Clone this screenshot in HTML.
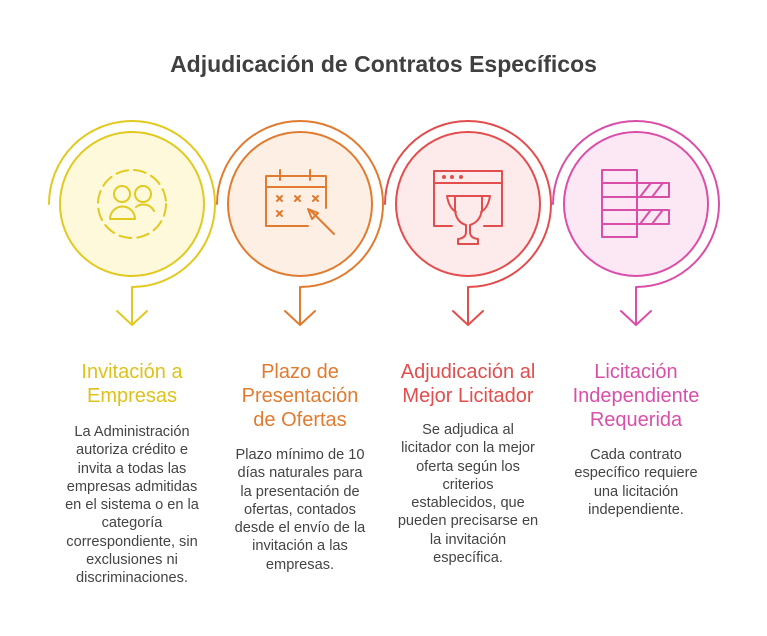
<!DOCTYPE html>
<html><head><meta charset="utf-8"><style>
body{margin:0;width:767px;height:636px;background:#fff;font-family:"Liberation Sans",sans-serif;position:relative;overflow:hidden}
.h{position:absolute;top:51px;left:0;width:767px;text-align:center;font-size:23px;font-weight:bold;color:#404040}
.c{position:absolute;width:170px;text-align:center}
.t{font-size:20px;line-height:24px;margin-top:0}
.d{font-size:14.6px;line-height:18.3px;color:#444;position:absolute;left:-10px;width:190px}
</style></head><body>
<div class="h">Adjudicación de Contratos Específicos</div>
<svg width="767" height="636" style="position:absolute;left:0;top:0" fill="none" stroke-width="2" stroke-linecap="round" stroke-linejoin="round">
<g stroke="#e2c91f"><circle cx="132" cy="204" r="72" fill="#fef9db"/><path d="M49 204 A83 83 0 1 1 132 287 L132 325 M117 311 L132 325 L147 311"/>
<circle cx="132" cy="204" r="34" stroke-dasharray="12 6"/><circle cx="122" cy="194" r="8"/><circle cx="143" cy="194" r="8"/><path d="M110 219 a12 12 0 0 1 25 0 Z M136 207 a12 12 0 0 1 18 4"/></g>
<g stroke="#e07b30"><circle cx="300" cy="204" r="72" fill="#fdefe3"/><path d="M217 204 A83 83 0 1 1 300 287 L300 325 M285 311 L300 325 L315 311"/>
<path d="M326 208 V176 H266 V226 H308 M266 187 H326 M280 170 V180 M310 170 V180 M277 196 l5 5 m0 -5 l-5 5 M295 196 l5 5 m0 -5 l-5 5 M313 196 l5 5 m0 -5 l-5 5 M277 211 l5 5 m0 -5 l-5 5 M310 210 l24 24 M308 209 l10 4 l-6 6 Z"/></g>
<g stroke="#e24d4d"><circle cx="468" cy="204" r="72" fill="#fdeaea"/><path d="M385 204 A83 83 0 1 1 468 287 L468 325 M453 311 L468 325 L483 311"/>
<path d="M452 226 H434 V171 H502 V226 H484 M434 183 H502 M455 196 H482 V210 Q480 222 470 225 V232 Q470 238 478 239 V244 H458 V239 Q466 238 466 232 V225 Q456 222 455 210 Z M455 196 H447 Q449 208 456 212 M482 196 H490 Q488 208 481 212"/><circle cx="444" cy="177" r="1" fill="#e24d4d"/><circle cx="452" cy="177" r="1" fill="#e24d4d"/><circle cx="461" cy="177" r="1" fill="#e24d4d"/></g>
<g stroke="#d94fa8"><circle cx="636" cy="204" r="72" fill="#fce8f5"/><path d="M553 204 A83 83 0 1 1 636 287 L636 325 M621 311 L636 325 L651 311"/>
<path d="M602 170 H637 V237 H602 Z M602 183 H637 M602 197 H637 M602 210 H637 M602 224 H637 M637 183 H669 V197 H637 M637 210 H669 V224 H637 M640 197 l10 -13 M652 197 l10 -13 M640 224 l10 -13 M652 224 l10 -13"/></g>
</svg>
<div class="c" style="left:47px;top:360px"><div class="t" style="color:#dcc21a">Invitación a<br>Empresas</div>
<div class="d" style="top:63px">La Administración<br>autoriza crédito e<br>invita a todas las<br>empresas admitidas<br>en el sistema o en la<br>categoría<br>correspondiente, sin<br>exclusiones ni<br>discriminaciones.</div></div>
<div class="c" style="left:215px;top:360px"><div class="t" style="color:#e07b30">Plazo de<br>Presentación<br>de Ofertas</div>
<div class="d" style="top:86px">Plazo mínimo de 10<br>días naturales para<br>la presentación de<br>ofertas, contados<br>desde el envío de la<br>invitación a las<br>empresas.</div></div>
<div class="c" style="left:383px;top:360px"><div class="t" style="color:#e24d4d">Adjudicación al<br>Mejor Licitador</div>
<div class="d" style="top:61px">Se adjudica al<br>licitador con la mejor<br>oferta según los<br>criterios<br>establecidos, que<br>pueden precisarse en<br>la invitación<br>específica.</div></div>
<div class="c" style="left:551px;top:360px"><div class="t" style="color:#d94fa8">Licitación<br>Independiente<br>Requerida</div>
<div class="d" style="top:86px">Cada contrato<br>específico requiere<br>una licitación<br>independiente.</div></div>
</body></html>
